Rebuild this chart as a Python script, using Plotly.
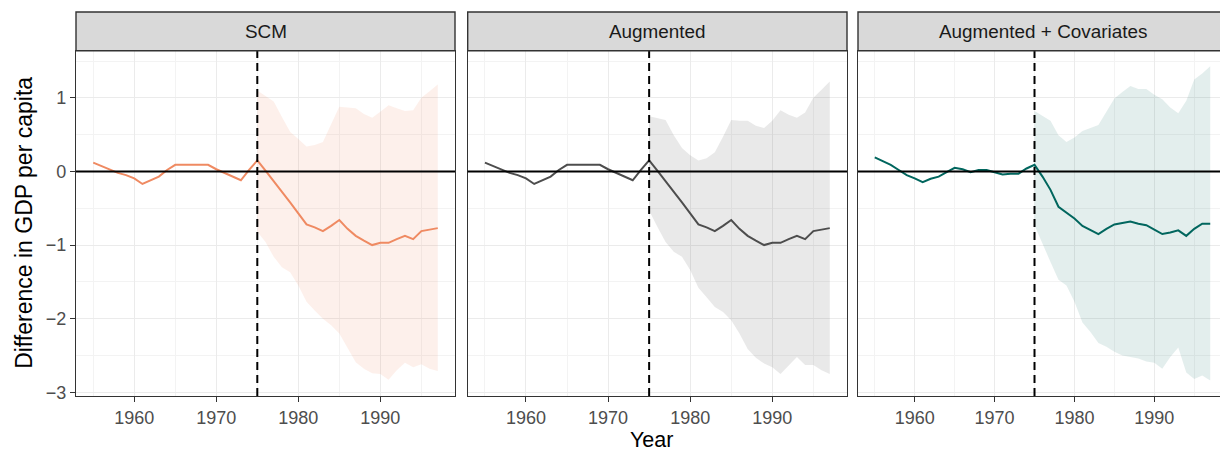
import plotly.graph_objects as go

years = list(range(1955, 1998))
post_years = list(range(1975, 1998))

scm_est = [0.12, 0.07, 0.02, -0.02, -0.05, -0.095, -0.17, -0.12, -0.07, 0.02, 0.09, 0.09, 0.09, 0.09, 0.09,
           0.03, -0.02, -0.07, -0.12, 0.02, 0.15, 0.01, -0.13, -0.28, -0.42, -0.57, -0.72, -0.76, -0.81, -0.74,
           -0.66, -0.78, -0.875, -0.94, -1.0, -0.97, -0.97, -0.92, -0.875, -0.92, -0.81, -0.79, -0.77]
scm_upper = [1.10, 1.02, 0.95, 0.74, 0.54, 0.44, 0.34, 0.36, 0.40, 0.64, 0.88, 0.87, 0.86, 0.78, 0.73,
             0.81, 0.90, 0.86, 0.82, 0.83, 1.00, 1.09, 1.18]
scm_lower = [-0.82, -0.96, -1.16, -1.30, -1.37, -1.55, -1.77, -1.89, -2.00, -2.09, -2.20, -2.39, -2.59,
             -2.68, -2.74, -2.75, -2.83, -2.70, -2.60, -2.66, -2.62, -2.68, -2.71]

aug_est = list(scm_est)
aug_upper = [0.75, 0.73, 0.70, 0.49, 0.32, 0.22, 0.15, 0.18, 0.26, 0.47, 0.70, 0.69, 0.69, 0.62, 0.59,
             0.69, 0.83, 0.77, 0.73, 0.80, 1.00, 1.11, 1.22]
aug_lower = [-0.53, -0.75, -0.96, -1.09, -1.16, -1.34, -1.58, -1.71, -1.84, -1.91, -2.02, -2.20, -2.41,
             -2.53, -2.61, -2.66, -2.75, -2.63, -2.52, -2.63, -2.63, -2.70, -2.75]

cov_est = [0.19, 0.14, 0.09, 0.02, -0.05, -0.095, -0.145, -0.10, -0.07, -0.01, 0.05, 0.03, -0.01, 0.02, 0.02,
           -0.01, -0.04, -0.03, -0.03, 0.04, 0.09, -0.07, -0.25, -0.48, -0.56, -0.64, -0.74, -0.80, -0.85, -0.78,
           -0.72, -0.70, -0.68, -0.71, -0.73, -0.79, -0.85, -0.83, -0.80, -0.875, -0.78, -0.71, -0.71]
cov_upper = [0.82, 0.75, 0.69, 0.49, 0.40, 0.46, 0.55, 0.59, 0.63, 0.81, 0.99, 1.08, 1.16, 1.12, 1.12,
             1.04, 0.98, 0.87, 0.79, 0.96, 1.25, 1.33, 1.43]
cov_lower = [-0.73, -0.98, -1.23, -1.47, -1.55, -1.77, -2.05, -2.18, -2.33, -2.38, -2.45, -2.50, -2.52,
             -2.54, -2.58, -2.60, -2.68, -2.52, -2.39, -2.73, -2.82, -2.77, -2.84]

panels = ["SCM", "Augmented", "Augmented + Covariates"]
estimates = [scm_est, aug_est, cov_est]
uppers = [scm_upper, aug_upper, cov_upper]
lowers = [scm_lower, aug_lower, cov_lower]
line_colors = ["#ef8a62", "#4d4d4d", "#01665e"]
band_colors = ["rgba(239,138,98,0.13)", "rgba(77,77,77,0.12)", "rgba(1,102,94,0.11)"]
treat_year = 1975

# page body has an 8px margin, so the figure is laid out 8px smaller
OFF = 8
W, H = 1228 - OFF, 451 - OFF
ml, mr, mt, mb = 76 - OFF, 1, 12 - OFF, 451 - 396
pw = W - ml - mr
ph = H - mt - mb
panel_px = [(76, 455), (467.7, 847), (858, 1227)]
xdomains = [(max(0, (a - OFF - ml) / pw), min(1, (b - OFF - ml) / pw)) for a, b in panel_px]
strip_bottom = 50.7 - OFF
plot_bottom = 396 - OFF
ytop = (plot_bottom - strip_bottom) / ph

fig = go.Figure()
font_family = "Liberation Sans, Arial, Helvetica, sans-serif"
TICK_FS = 18
STRIP_FS = 18.9
TITLE_FS = 23
XTITLE_FS = 21.5

for i in range(3):
    xa = "x" if i == 0 else f"x{i+1}"
    ya = "y" if i == 0 else f"y{i+1}"
    fig.add_trace(go.Scatter(
        x=post_years + post_years[::-1],
        y=uppers[i] + lowers[i][::-1],
        fill="toself", fillcolor=band_colors[i], line=dict(width=0),
        mode="lines", hoverinfo="skip", showlegend=False, xaxis=xa, yaxis=ya))
    fig.add_trace(go.Scatter(
        x=years, y=estimates[i], mode="lines",
        line=dict(color=line_colors[i], width=2),
        showlegend=False, xaxis=xa, yaxis=ya))

layout_axes = {}
for i in range(3):
    xkey = "xaxis" if i == 0 else f"xaxis{i+1}"
    ykey = "yaxis" if i == 0 else f"yaxis{i+1}"
    layout_axes[xkey] = dict(
        domain=list(xdomains[i]), range=[1952.9, 1999.1], anchor="y" if i == 0 else f"y{i+1}",
        tickmode="array", tickvals=[1960, 1970, 1980, 1990],
        ticktext=["1960", "1970", "1980", "1990"],
        ticks="outside", ticklen=5, tickcolor="#333333", tickwidth=1.4,
        showgrid=True, gridcolor="#ebebeb", gridwidth=1.4,
        minor=dict(tickvals=[1955, 1965, 1975, 1985, 1995], showgrid=True, gridcolor="#f3f3f3", gridwidth=0.8, ticks=""),
        showline=True, linecolor="#333333", linewidth=1.4, mirror=True,
        zeroline=False, tickfont=dict(size=TICK_FS, color="#4d4d4d", family=font_family),
    )
    layout_axes[ykey] = dict(
        domain=[0, ytop], range=[-3.05, 1.64], anchor="x" if i == 0 else f"x{i+1}",
        tickmode="array", tickvals=[-3, -2, -1, 0, 1],
        ticktext=["\u22123", "\u22122", "\u22121", "0", "1"],
        ticks="outside" if i == 0 else "", ticklen=5, tickcolor="#333333", tickwidth=1.4,
        showticklabels=(i == 0),
        showgrid=True, gridcolor="#ebebeb", gridwidth=1.4,
        minor=dict(tickvals=[-2.5, -1.5, -0.5, 0.5, 1.5], showgrid=True, gridcolor="#f3f3f3", gridwidth=0.8, ticks=""),
        showline=True, linecolor="#333333", linewidth=1.4, mirror=True,
        zeroline=False, tickfont=dict(size=TICK_FS, color="#4d4d4d", family=font_family),
    )

shapes = []
annotations = []
for i in range(3):
    xa = "x" if i == 0 else f"x{i+1}"
    ya = "y" if i == 0 else f"y{i+1}"
    shapes.append(dict(type="line", xref=f"{xa} domain", yref=ya, x0=0, x1=1, y0=0, y1=0,
                       line=dict(color="black", width=2), layer="above"))
    shapes.append(dict(type="line", xref=xa, yref=f"{ya} domain", x0=treat_year, x1=treat_year, y0=0, y1=1,
                       line=dict(color="black", width=2, dash="8px,5px"), layer="above"))
    shapes.append(dict(type="rect", xref="paper", yref="paper",
                       x0=xdomains[i][0], x1=xdomains[i][1], y0=ytop, y1=1,
                       fillcolor="#d9d9d9", line=dict(color="#333333", width=1.4), layer="above"))
    annotations.append(dict(text=panels[i], xref="paper", yref="paper",
                            x=(xdomains[i][0] + xdomains[i][1]) / 2, y=(ytop + 1) / 2,
                            showarrow=False, xanchor="center", yanchor="middle",
                            font=dict(size=STRIP_FS, color="#1a1a1a", family=font_family)))

annotations.append(dict(text="Year", xref="paper", yref="paper",
                        x=((651 - OFF) - ml) / pw, y=(plot_bottom - H) / ph, yshift=-3,
                        showarrow=False, xanchor="center", yanchor="bottom",
                        font=dict(size=XTITLE_FS, color="black", family=font_family)))
ytitle_x = 24.5 - OFF
annotations.append(dict(text="Difference in GDP per capita", xref="paper", yref="paper",
                        x=(ytitle_x - ml) / pw, y=ytop / 2, textangle=-90,
                        showarrow=False, xanchor="center", yanchor="middle",
                        font=dict(size=TITLE_FS, color="black", family=font_family)))

fig.update_layout(
    width=W, height=H,
    margin=dict(l=ml, r=mr, t=mt, b=mb),
    paper_bgcolor="white", plot_bgcolor="white",
    shapes=shapes, annotations=annotations, showlegend=False,
    font=dict(family=font_family),
    **layout_axes,
)

fig.write_html("out.html")
